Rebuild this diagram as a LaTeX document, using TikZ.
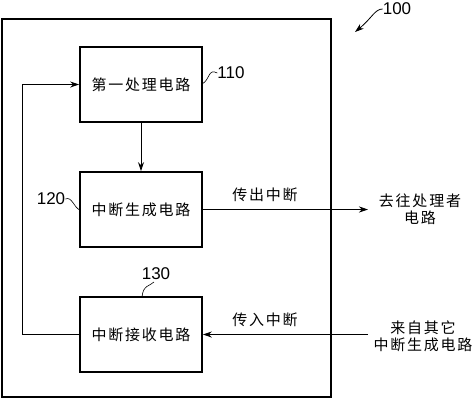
\documentclass[tikz,border=0pt]{standalone}
\usepackage{fontspec}
\setmainfont{Liberation Sans}
\newfontfamily\cjk{Noto Sans CJK SC}[LetterSpace=12]
\usetikzlibrary{arrows.meta}

\begin{document}
\begin{tikzpicture}[x=1pt,y=-1pt,
  unit/.style={draw,line width=1.6pt,minimum width=122pt,minimum height=75pt,inner sep=0pt,font=\cjk\fontsize{15}{17}\selectfont},
  sig/.style={font=\cjk\fontsize{15}{17}\selectfont,align=center,inner sep=0pt},
  refnum/.style={font=\fontsize{17}{20}\selectfont,inner sep=0pt},
  wire/.style={line width=0.9pt},
  tip/.style={-{Stealth[length=9pt,width=6pt]}}]
\useasboundingbox (0,0) rectangle (474,402);
\draw[line width=1.8pt] (2,19) rectangle (331,397);
\node[unit] (proc) at (141,84.5) {第一处理电路};
\node[unit] (gen) at (141,209.5) {中断生成电路};
\node[unit] (recv) at (141,334.5) {中断接收电路};
\coordinate (dst) at (368,209.5);
\coordinate (src) at (368,334.5);
\node[sig] (outlbl) at (265,195) {传出中断};
\node[sig] (inlbl) at (265,320) {传入中断};
\node[sig] (dsttxt) at (420,209) {去往处理者\\电路};
\node[sig] (srctxt) at (423,336) {来自其它\\中断生成电路};
\draw[wire,tip] (proc) -- (gen);
\draw[wire,tip] (gen.east) -- (dst);
\draw[wire,tip] (src) -- (recv.east);
\draw[wire,tip] (recv.west) -- (22,334.5) -- (22,84.5) -- (proc.west);
% reference numerals
\node[refnum] (n100) at (397,9) {100};
\node[refnum] (n110) at (231,73) {110};
\node[refnum] (n120) at (51,199) {120};
\node[refnum] (n130) at (156,274) {130};
\draw[line width=0.8pt,tip] (n100.west) .. controls (375,9) and (372,18) .. (355,32);
\draw[line width=0.6pt] (n110.west) .. controls (208,68) and (210,80) .. (202,84);
\draw[line width=0.6pt] (n120.east) .. controls (72,196) and (74,208) .. (80,210);
\draw[line width=0.6pt] (154,282) .. controls (150,286) and (143,285) .. (142,297);
\end{tikzpicture}
\end{document}
